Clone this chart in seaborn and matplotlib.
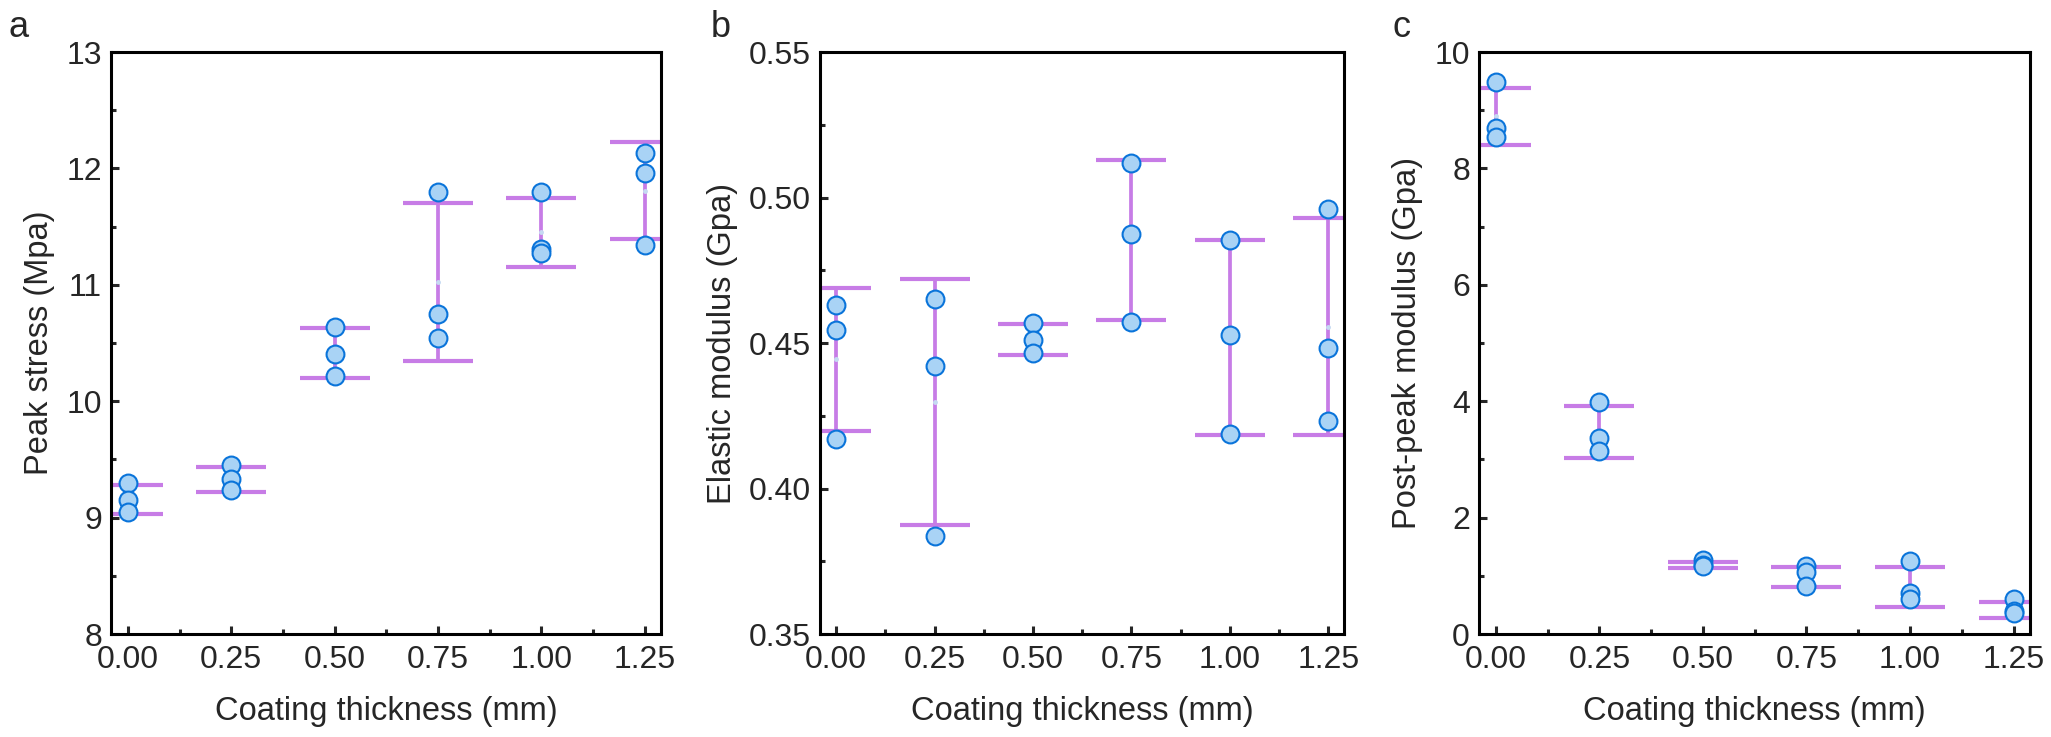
import numpy as np
import pandas as pd
import seaborn as sns
import matplotlib.pyplot as plt
from matplotlib.ticker import MultipleLocator, FormatStrFormatter

# coating thickness (mm), three specimens each
thickness = [0.0, 0.25, 0.50, 0.75, 1.00, 1.25]

peak_stress = [[9.30, 9.15, 9.05], [9.45, 9.33, 9.24], [10.64, 10.41, 10.22],
               [11.80, 10.75, 10.54], [11.80, 11.31, 11.27], [12.13, 11.96, 11.34]]
peak_mean = [9.154, 9.329, 10.413, 11.021, 11.452, 11.810]
peak_err = [0.123, 0.106, 0.213, 0.679, 0.298, 0.418]

elastic = [[0.463, 0.4545, 0.417], [0.465, 0.442, 0.3836], [0.4568, 0.4509, 0.4466],
           [0.5117, 0.4876, 0.4571], [0.4854, 0.4526, 0.4188], [0.4961, 0.4483, 0.4231]]
elastic_mean = [0.4444, 0.4297, 0.4512, 0.4853, 0.4519, 0.4556]
elastic_err = [0.0246, 0.0422, 0.0053, 0.0275, 0.0334, 0.0372]

post_peak = [[9.48, 8.69, 8.54], [3.99, 3.36, 3.14], [1.28, 1.19, 1.17],
             [1.17, 1.07, 0.82], [1.25, 0.70, 0.61], [0.61, 0.39, 0.37]]
post_mean = [8.895, 3.475, 1.185, 0.985, 0.815, 0.415]
post_err = [0.495, 0.443, 0.055, 0.175, 0.345, 0.135]

sns.set_theme(style="ticks")
plt.rcParams['font.family'] = ['Liberation Sans', 'DejaVu Sans']
plt.rcParams['axes.linewidth'] = 2.2

purple = "#c77ce6"
fill = "#a9d3f5"
edge = "#0a74da"


def long_df(values):
    xs, ys = [], []
    for t, vals in zip(thickness, values):
        for v in vals:
            xs.append(t)
            ys.append(v)
    return pd.DataFrame({"thickness": xs, "value": ys})


def panel(ax, values, mean, err, ylim, major, minor, fmt, ylabel):
    ax.errorbar(thickness, mean, yerr=err, fmt="o", ms=2.5, mfc="#c6daf2", mec="#c6daf2",
                ecolor=purple, elinewidth=2.7, capsize=25, capthick=3.0, zorder=2)
    sns.scatterplot(data=long_df(values), x="thickness", y="value", ax=ax, s=165,
                    color=fill, edgecolor=edge, linewidth=1.5, zorder=3, clip_on=False)
    ax.set_xlim(-0.041, 1.29)
    ax.set_ylim(*ylim)
    ax.xaxis.set_major_locator(MultipleLocator(0.25))
    ax.xaxis.set_minor_locator(MultipleLocator(0.125))
    ax.xaxis.set_major_formatter(FormatStrFormatter("%.2f"))
    ax.yaxis.set_major_locator(MultipleLocator(major))
    ax.yaxis.set_minor_locator(MultipleLocator(minor))
    ax.yaxis.set_major_formatter(FormatStrFormatter(fmt))
    ax.tick_params(which="major", direction="in", length=6, width=2.2, labelsize=23)
    ax.tick_params(axis="x", which="major", pad=8)
    ax.tick_params(axis="y", which="major", pad=6.5)
    ax.tick_params(which="minor", direction="in", length=3.5, width=2.2)
    for s in ax.spines.values():
        s.set_linewidth(2.2)
        s.set_color("black")
    ax.set_xlabel("Coating thickness (mm)", fontsize=23.5, labelpad=15)
    ax.set_ylabel(ylabel, fontsize=23.5, labelpad=8)


fig = plt.figure(figsize=(20.51, 7.37), dpi=100)
ax1 = fig.add_axes([0.0541, 0.1397, 0.2682, 0.7897])
ax2 = fig.add_axes([0.3998, 0.1397, 0.2555, 0.7897])
ax3 = fig.add_axes([0.7211, 0.1397, 0.2687, 0.7897])

panel(ax1, peak_stress, peak_mean, peak_err, (8, 13), 1, 0.5, "%d", "Peak stress (Mpa)")
panel(ax2, elastic, elastic_mean, elastic_err, (0.35, 0.55), 0.05, 0.025, "%.2f",
      "Elastic modulus (Gpa)")
panel(ax3, post_peak, post_mean, post_err, (0, 10), 2, 1, "%d", "Post-peak modulus (Gpa)")

for xpos, letter in [(8, "a"), (711, "b"), (1392, "c")]:
    fig.text(xpos / 2051, 1 - 37 / 737, letter, fontsize=26, ha="left", va="baseline")

fig.savefig("out.png", dpi=100)
plt.close("all")
